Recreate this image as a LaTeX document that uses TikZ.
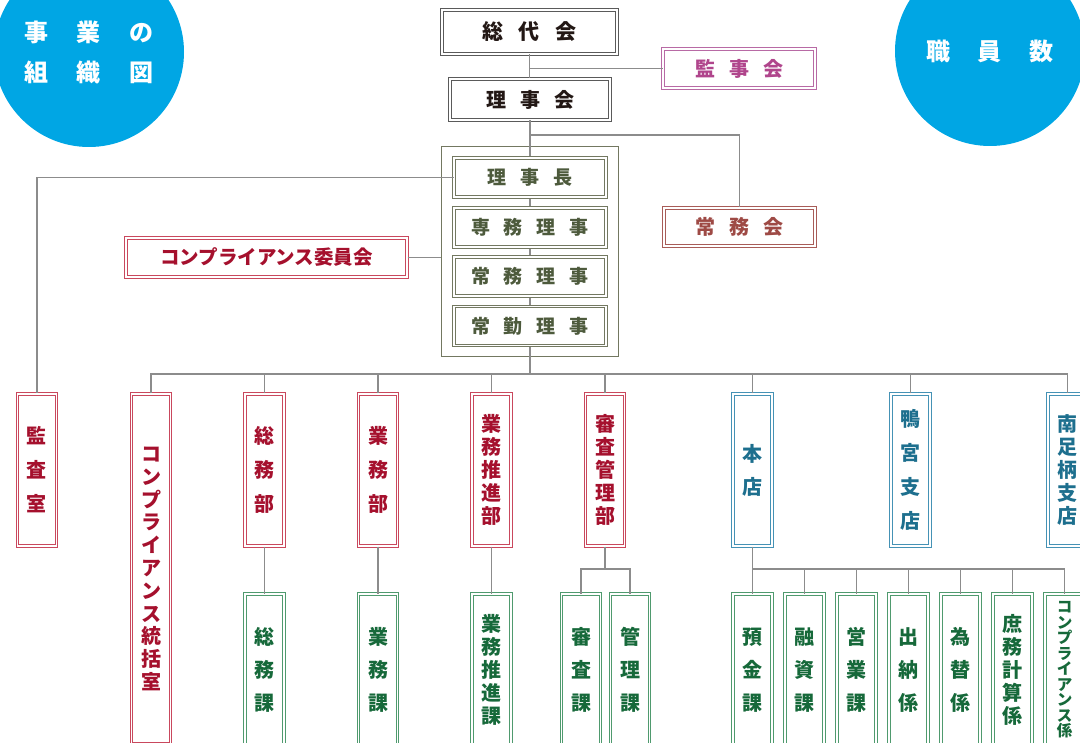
\documentclass[tikz,border=0pt]{standalone}
\usepackage{fontspec}
\usepackage{tikz}
\usetikzlibrary{calc}
\newfontfamily\cjk{Noto Sans CJK JP}
\newcommand{\jfs}[2]{\fontsize{#1}{#2}\selectfont}
\newcommand{\gp}[1]{\hspace{#1pt}}

\definecolor{skyblue}{HTML}{00A6E4}
\definecolor{conngray}{HTML}{8C8C8C}
\definecolor{topline}{HTML}{5A5A5A}
\definecolor{toptext}{HTML}{231815}
\definecolor{kanline}{HTML}{B86AA5}
\definecolor{kantext}{HTML}{B0458C}
\definecolor{joline}{HTML}{A85C58}
\definecolor{jotext}{HTML}{9E4A45}
\definecolor{olline}{HTML}{737861}
\definecolor{oltext}{HTML}{4D5A3C}
\definecolor{redline}{HTML}{C9485D}
\definecolor{redtext}{HTML}{A5102D}
\definecolor{tealline}{HTML}{4592B5}
\definecolor{tealtext}{HTML}{1D6F8E}
\definecolor{grnline}{HTML}{4F9A6E}
\definecolor{grntext}{HTML}{16693A}

\tikzset{
  conn/.style={draw=conngray, line width=1.1pt},
  dbox/.style={draw=#1, double=white, double distance=1.2pt, line width=1pt,
    fill=white, inner sep=0pt, align=center},
  bubble/.style={circle, fill=skyblue, minimum size=190pt, inner sep=0pt,
    text=white, align=center},
  hbox/.style={minimum height=39pt},
  vbox/.style={minimum width=39pt, minimum height=152pt},
  redbox/.style={dbox=redline, text=redtext},
  tealbox/.style={dbox=tealline, text=tealtext},
  grnbox/.style={dbox=grnline, text=grntext},
  olbox/.style={dbox=olline, text=oltext, hbox, minimum width=152pt,
    font=\cjk\bfseries\jfs{19}{19}}
}

\begin{document}
\begin{tikzpicture}[x=1pt, y=-1pt]
    \clip (0,0) rectangle (1080,743);
    % Circles
    \node[bubble, font=\cjk\bfseries\jfs{24}{40}] (title) at (89,52)
      {事\gp{29}業\gp{29}の\\組\gp{29}織\gp{29}図};
    \node[bubble, font=\cjk\bfseries\jfs{24}{24}] (staff) at (990,51)
      {職\gp{28}員\gp{28}数};
    % Top of the chart
    \node[dbox=topline, text=toptext, minimum width=175pt, minimum height=44pt,
      font=\cjk\bfseries\jfs{21}{21}] (soudai) at (529.5,32) {総\gp{16}代\gp{16}会};
    \node[dbox=topline, text=toptext, minimum width=160pt, minimum height=41pt,
      font=\cjk\bfseries\jfs{20}{20}] (rijikai) at (530,99.5) {理\gp{14}事\gp{14}会};
    \node[dbox=kanline, text=kantext, minimum width=152pt, hbox,
      font=\cjk\bfseries\jfs{20}{20}] (kanjikai) at (739,68.5) {監\gp{14}事\gp{14}会};
    \node[dbox=joline, text=jotext, minimum width=151pt, minimum height=38pt,
      font=\cjk\bfseries\jfs{20}{20}] (joumukai) at (739.5,227) {常\gp{14}務\gp{14}会};
    \coordinate (jbus) at (530,135);
    \draw[conn] (soudai.south) -- (soudai.south |- rijikai.north);
    \draw[conn] (kanjikai.west) -- (kanjikai.west -| soudai.south);
    \draw[conn] (jbus) -| (joumukai.north);
    % Officers
    \node[draw=olline, line width=1pt, minimum width=177pt, minimum height=210pt]
      (yakuin) at (529.5,252) {};
    \coordinate (bus) at (530,374);
    \draw[conn] (rijikai.south) -- (bus);
    \node[olbox] (richou) at (530,177.5) {理\gp{14}事\gp{14}長};
    \node[olbox] (senmu) at (530,227.5) {専\gp{14}務\gp{14}理\gp{14}事};
    \node[olbox] (joumu) at (530,276.5) {常\gp{14}務\gp{14}理\gp{14}事};
    \node[olbox] (joukin) at (530,326) {常\gp{14}勤\gp{14}理\gp{14}事};
    \node[redbox, hbox, minimum width=281pt, font=\cjk\bfseries\jfs{19.5}{19.5}]
      (iinkai) at (266.5,257.5) {コンプライアンス委員会};
    \draw[conn] (iinkai.east) -- (iinkai.east -| yakuin.west);
    % Departments and branches
    \node[redbox, vbox, font=\cjk\bfseries\jfs{20}{34}] (kansa) at (37,470) {監\\査\\室};
    \node[redbox, vbox, minimum height=350pt, font=\cjk\bfseries\jfs{20}{22.8}]
      (toukatsu) at (151,569) {コ\\ン\\プ\\ラ\\イ\\ア\\ン\\ス\\統\\括\\室};
    \node[redbox, vbox, font=\cjk\bfseries\jfs{20}{34}] (soumu) at (264.5,470) {総\\務\\部};
    \node[redbox, vbox, font=\cjk\bfseries\jfs{20}{34}] (gyoumu) at (378,470) {業\\務\\部};
    \node[redbox, vbox, font=\cjk\bfseries\jfs{20}{23}] (suishin) at (491.5,470) {業\\務\\推\\進\\部};
    \node[redbox, vbox, font=\cjk\bfseries\jfs{20}{23}] (shinsa) at (605,470) {審\\査\\管\\理\\部};
    \node[tealbox, vbox, font=\cjk\bfseries\jfs{20}{33}] (honten) at (752.5,470) {本\\店};
    \node[tealbox, vbox, font=\cjk\bfseries\jfs{20}{34}] (kamo) at (910.5,470) {鴨\\宮\\支\\店};
    \node[tealbox, vbox, font=\cjk\bfseries\jfs{20}{23}] (minami) at (1067.5,470) {南\\足\\柄\\支\\店};
    \draw[conn] (richou.west) -| (kansa.north);
    \draw[conn] (toukatsu.north) |- (bus) -| (minami.north);
    \foreach \n in {soumu,gyoumu,suishin,shinsa,honten,kamo}
      \draw[conn] (\n.north) -- (\n.north |- bus);
    % Sections
    \node[grnbox, vbox, font=\cjk\bfseries\jfs{20}{33}] (soumuka) at (264.5,670) {総\\務\\課};
    \node[grnbox, vbox, font=\cjk\bfseries\jfs{20}{33}] (gyoumuka) at (378,670) {業\\務\\課};
    \node[grnbox, vbox, font=\cjk\bfseries\jfs{20}{23}] (suishinka) at (491.5,670) {業\\務\\推\\進\\課};
    \node[grnbox, vbox, font=\cjk\bfseries\jfs{20}{33}] (shinsaka) at (581,670) {審\\査\\課};
    \node[grnbox, vbox, font=\cjk\bfseries\jfs{20}{33}] (kanrika) at (630,670) {管\\理\\課};
    \node[grnbox, vbox, font=\cjk\bfseries\jfs{20}{33}] (yokin) at (752.5,670) {預\\金\\課};
    \node[grnbox, vbox, font=\cjk\bfseries\jfs{20}{33}] (yuushi) at (804.5,670) {融\\資\\課};
    \node[grnbox, vbox, font=\cjk\bfseries\jfs{20}{33}] (eigyou) at (856.5,670) {営\\業\\課};
    \node[grnbox, vbox, font=\cjk\bfseries\jfs{20}{33}] (suitou) at (908.5,670) {出\\納\\係};
    \node[grnbox, vbox, font=\cjk\bfseries\jfs{20}{33}] (kawase) at (960.5,670) {為\\替\\係};
    \node[grnbox, vbox, font=\cjk\bfseries\jfs{20}{23}] (shomu) at (1012.5,670) {庶\\務\\計\\算\\係};
    \node[grnbox, vbox, font=\cjk\bfseries\jfs{15.5}{15.5}] (compka) at (1064.5,670)
      {コ\\ン\\プ\\ラ\\イ\\ア\\ン\\ス\\係};
    \coordinate (sbus) at (605,569);
    \coordinate (hbus) at (752.5,569);
    \draw[conn] (soumu.south) -- (soumuka.north);
    \draw[conn] (gyoumu.south) -- (gyoumuka.north);
    \draw[conn] (suishin.south) -- (suishinka.north);
    \draw[conn] (shinsa.south) -- (sbus);
    \draw[conn] (shinsaka.north) |- (sbus) -| (kanrika.north);
    \draw[conn] (honten.south) -- (yokin.north);
    \draw[conn] (hbus) -| (compka.north);
    \foreach \n in {yuushi,eigyou,suitou,kawase,shomu}
      \draw[conn] (\n.north) -- (\n.north |- hbus);
\end{tikzpicture}
\end{document}
